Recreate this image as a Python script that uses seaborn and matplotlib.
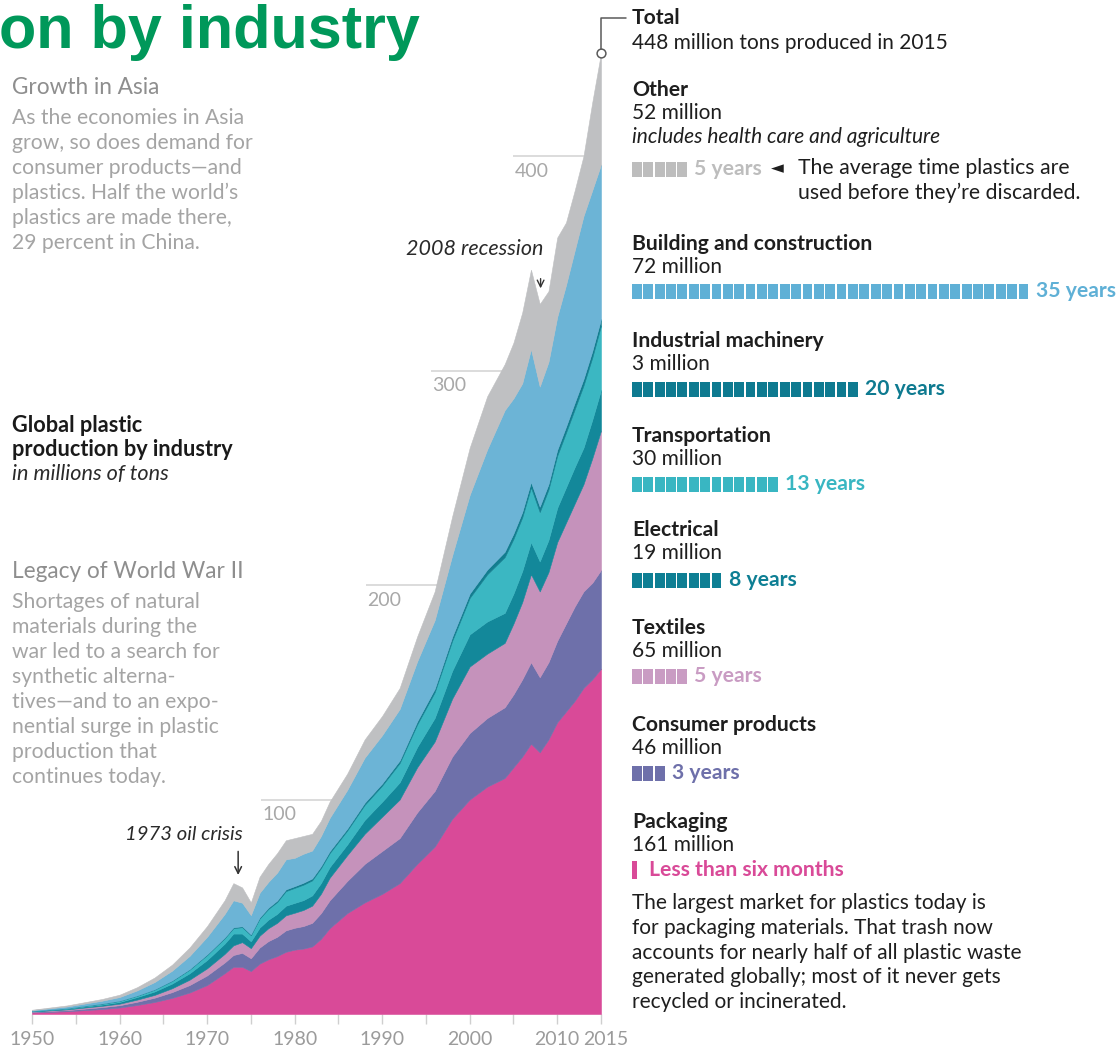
import numpy as np
import pandas as pd
import matplotlib
matplotlib.use("Agg")
import matplotlib.pyplot as plt
from matplotlib.lines import Line2D
import seaborn as sns

# ---------------------------------------------------------------------------
# Global plastic production by industry, millions of tons
# ---------------------------------------------------------------------------
years = [1950, 1952, 1954, 1956, 1958, 1960, 1962, 1964, 1966, 1968,
         1970, 1972, 1973, 1974, 1975, 1976, 1977, 1978, 1979, 1980,
         1981, 1982, 1983, 1984, 1986, 1988, 1990, 1992, 1994, 1996,
         1998, 2000, 2002, 2004, 2005, 2006, 2007, 2008, 2009, 2010,
         2011, 2012, 2013, 2014, 2015]

packaging = [0.7, 1.0, 1.3, 1.8, 2.3, 3.0, 4.2, 5.6, 7.5, 10.0,
             13.5, 19.0, 22.0, 22.0, 20.0, 23.5, 25.5, 27.0, 29.0, 30.0,
             30.5, 31.5, 35.0, 40.0, 47.0, 52.0, 56.0, 61.0, 70.0, 78.0,
             91.0, 100.0, 106.0, 110.0, 115.0, 120.0, 126.0, 122.0, 128.0, 136.0,
             141.0, 146.0, 152.0, 156.0, 161.0]
consumer = [0.3, 0.4, 0.5, 0.7, 0.9, 1.1, 1.5, 2.0, 2.7, 3.5,
            4.5, 5.0, 5.5, 6.5, 6.0, 7.5, 8.5, 9.0, 10.0, 10.2,
            10.5, 11.0, 12.0, 13.0, 15.0, 18.0, 20.0, 21.0, 24.0, 26.0,
            29.0, 31.0, 32.0, 33.0, 34.0, 36.0, 38.0, 35.0, 36.0, 38.0,
            41.0, 44.0, 45.0, 45.0, 46.0]
textiles = [0.15, 0.25, 0.35, 0.5, 0.6, 0.7, 1.0, 1.3, 1.8, 2.5,
            3.3, 4.0, 4.5, 5.0, 4.7, 5.5, 6.0, 6.5, 7.0, 7.0,
            7.5, 8.0, 9.0, 10.5, 12.0, 14.0, 16.0, 18.0, 21.0, 23.0,
            27.0, 31.0, 30.0, 30.0, 33.0, 36.0, 41.0, 40.0, 42.0, 46.0,
            47.0, 48.0, 50.0, 58.0, 65.0]
electrical = [0.15, 0.25, 0.35, 0.5, 0.6, 0.8, 1.2, 1.6, 2.2, 3.0,
              3.9, 4.8, 5.5, 4.0, 3.2, 3.8, 4.0, 4.2, 4.5, 4.6,
              4.6, 4.8, 5.0, 5.0, 5.0, 6.5, 7.0, 8.0, 9.5, 11.0,
              13.0, 15.0, 15.0, 14.0, 14.0, 14.5, 15.0, 14.0, 15.0, 16.0,
              16.5, 17.0, 17.0, 18.0, 19.0]
transportation = [0.1, 0.15, 0.2, 0.3, 0.4, 0.5, 0.6, 0.9, 1.2, 1.7,
                  2.3, 2.5, 2.5, 3.0, 2.8, 4.2, 5.0, 5.5, 6.8, 7.0,
                  7.2, 7.0, 7.0, 6.5, 6.5, 7.0, 7.5, 9.0, 10.5, 12.0,
                  14.0, 17.0, 22.0, 26.0, 25.5, 25.0, 25.5, 23.0, 23.5, 24.3,
                  25.5, 27.0, 29.0, 29.0, 30.0]
industrial = [0.05, 0.05, 0.05, 0.05, 0.1, 0.1, 0.1, 0.1, 0.2, 0.2,
              0.3, 0.3, 0.4, 0.4, 0.4, 0.5, 0.6, 0.7, 0.8, 0.8,
              0.9, 0.9, 0.9, 0.9, 0.9, 1.0, 1.0, 1.2, 1.4, 1.6,
              1.8, 2.0, 2.2, 2.5, 2.5, 2.5, 2.5, 2.5, 2.5, 2.7,
              2.8, 3.0, 3.0, 3.0, 3.0]
building = [0.35, 0.55, 0.75, 1.0, 1.3, 1.7, 2.4, 3.4, 4.6, 6.2,
            8.2, 11.0, 12.6, 11.0, 9.0, 11.5, 12.0, 13.0, 14.0, 13.2,
            13.5, 13.0, 14.0, 15.5, 18.0, 21.0, 22.5, 24.0, 28.0, 32.0,
            38.0, 46.0, 56.0, 66.0, 63.0, 60.0, 62.0, 56.0, 57.0, 62.0,
            66.0, 71.0, 76.0, 75.0, 72.0]
other = [0.2, 0.35, 0.5, 0.65, 0.8, 1.1, 1.5, 2.1, 2.8, 3.9,
         5.0, 6.4, 8.0, 7.1, 5.9, 7.5, 8.4, 9.1, 8.9, 9.2,
         8.3, 7.8, 7.1, 7.6, 7.6, 8.5, 9.0, 9.8, 11.6, 13.4,
         18.2, 22.0, 24.8, 21.5, 26.0, 33.0, 37.0, 38.5, 33.0, 37.0,
         29.2, 28.0, 28.0, 41.0, 52.0]

# Right-hand key: name, 2015 output (millions of tons), product lifetime (years)
industries = ["Other", "Building and construction", "Industrial machinery",
              "Transportation", "Electrical", "Textiles", "Consumer products",
              "Packaging"]
output_2015 = [52, 72, 3, 30, 19, 65, 46, 161]
lifetimes = [5, 35, 20, 13, 8, 5, 3, 0.5]
lifetime_labels = ["5 years", "35 years", "20 years", "13 years", "8 years",
                   "5 years", "3 years", "Less than six months"]

grid_levels = [100, 200, 300, 400]
tick_years = [1950, 1960, 1970, 1980, 1990, 2000, 2010, 2015]

# ---------------------------------------------------------------------------
df = pd.DataFrame({"year": years, "Packaging": packaging, "Consumer products": consumer,
                   "Textiles": textiles, "Electrical": electrical,
                   "Transportation": transportation, "Industrial machinery": industrial,
                   "Building and construction": building, "Other": other})
stack_order = ["Packaging", "Consumer products", "Textiles", "Electrical",
               "Transportation", "Industrial machinery", "Building and construction", "Other"]
df["total"] = df[stack_order].sum(axis=1)

sns.set_theme(style="white")
plt.rcParams["font.family"] = ["Lato", "DejaVu Sans"]

area_colors = {
    "Packaging": "#d94a98",
    "Consumer products": "#6e70aa",
    "Textiles": "#c592bb",
    "Electrical": "#13889a",
    "Transportation": "#3bb7c2",
    "Industrial machinery": "#127d8f",
    "Building and construction": "#6cb4d6",
    "Other": "#bfc0c2",
}
key_colors = {
    "Other": "#bdbdbd",
    "Building and construction": "#5fb0d6",
    "Industrial machinery": "#0e7a90",
    "Transportation": "#39b6c2",
    "Electrical": "#0e7f94",
    "Textiles": "#c99cc3",
    "Consumer products": "#6e70aa",
    "Packaging": "#d94a98",
}
palette = sns.color_palette([area_colors[k] for k in stack_order])

W, H = 1120, 1052
fig = plt.figure(figsize=(W / 100, H / 100), dpi=100)


def fx(x):
    return x / W


def fy(y):
    return 1 - y / H


# ---------------- stacked area ----------------
PX_PER_UNIT = 2.145
ax = fig.add_axes([fx(32), fy(1014), (601 - 32) / W, 1014 / H])
ax.set_xlim(1950, 2015)
ax.set_ylim(0, 1014 / PX_PER_UNIT)
ax.stackplot(df["year"], *[df[k] for k in stack_order], colors=palette,
             linewidth=0.4, edgecolor="face", zorder=3)
for s in ax.spines.values():
    s.set_visible(False)

# short gridline segments ending at the curve, with labels underneath
for lvl in grid_levels:
    tot = df["total"].to_numpy()
    yr = df["year"].to_numpy()
    i = int(np.argmax(tot >= lvl))
    cross = yr[i - 1] + (lvl - tot[i - 1]) / (tot[i] - tot[i - 1]) * (yr[i] - yr[i - 1])
    start = cross - 8.0
    ax.hlines(lvl, start, 2015, color="#dcdcdc", lw=1.4, zorder=1)
    ax.annotate(str(lvl), xy=(start, lvl), xytext=(1, -5), textcoords="offset points",
                ha="left", va="top", fontsize=14, color="#a8a8a8")

# x axis: tick marks every five years, labels drawn under the decade marks
ax.set_yticks([])
ax.set_xticks(np.arange(1950, 2016, 5))
ax.set_xticklabels([])
ax.tick_params(axis="x", which="both", direction="out", length=7, width=1,
               color="#cfcfcf", bottom=True)
for t in tick_years:
    nudge = 3.5 if t == 2015 else 0
    ax.annotate(str(t), xy=(t, 0), xycoords=("data", "axes fraction"),
                xytext=(nudge, -12), textcoords="offset points",
                ha="center", va="top", fontsize=14, color="#9b9b9b",
                annotation_clip=False)

# total marker and bracket
total_2015 = float(df["total"].iloc[-1])
sns.scatterplot(x=[2015], y=[total_2015], ax=ax, s=40, marker="o",
                facecolor="white", edgecolor="#5a5a5a", linewidth=1.1,
                zorder=6, clip_on=False, legend=False)

# event annotations
t1973 = float(df.loc[df["year"] == 1973, "total"].iloc[0])
t2008 = float(df.loc[df["year"] == 2008, "total"].iloc[0])
ax.annotate("", xy=(1973.55, t1973 + 2.5), xytext=(0, 21), textcoords="offset points",
            arrowprops=dict(arrowstyle="->", color="#333333", lw=1.1))
ax.annotate("", xy=(2008.1, t2008 + 6), xytext=(0, 11), textcoords="offset points",
            arrowprops=dict(arrowstyle="->", color="#333333", lw=1.0))

fig.add_artist(Line2D([fx(601), fx(601), fx(626)], [fy(49), fy(18), fy(18)],
                      color="#5a5a5a", lw=1.1))

# ---------------- text ----------------
BODY = 14.6


def txt(x, y, s, size=BODY, color="#1e1e1e", weight="normal", style="normal", **kw):
    fig.text(fx(x), fy(y), s, fontsize=size, color=color, fontweight=weight,
             fontstyle=style, va="center", ha=kw.pop("ha", "left"), **kw)


fig.text(fx(-1), fy(48), "on by industry", fontsize=44, fontweight="bold",
         color="#00985a", family=["Liberation Sans", "DejaVu Sans"], va="baseline")

txt(184, 834, "1973 oil crisis", size=14.6, style="italic", color="#2a2a2a", ha="center")
txt(475, 249, "2008 recession", size=15.5, style="italic", color="#2a2a2a", ha="center")

# left column
txt(12, 88, "Growth in Asia", size=16.3, color="#8e8e8e")
asia = ["As the economies in Asia", "grow, so does demand for", "consumer products\u2014and",
        "plastics. Half the world\u2019s", "plastics are made there,", "29 percent in China."]
for k, line in enumerate(asia):
    txt(12, 118 + 25 * k, line, size=15.2, color="#a4a4a4")

txt(12, 426, "Global plastic", size=15.6, weight="bold", color="#1a1a1a")
txt(12, 450, "production by industry", size=15.6, weight="bold", color="#1a1a1a")
txt(12, 474, "in millions of tons", size=15.6, style="italic", color="#2a2a2a")

txt(12, 571, "Legacy of World War II", size=16.3, color="#8e8e8e")
war = ["Shortages of natural", "materials during the", "war led to a search for",
       "synthetic alterna-", "tives\u2014and to an expo-", "nential surge in plastic",
       "production that", "continues today."]
for k, line in enumerate(war):
    txt(12, 602 + 25 * k, line, size=15.2, color="#a4a4a4")

# right column
txt(632, 18, "Total", weight="bold", size=15.2)
txt(632, 43, f"{int(total_2015)} million tons produced in 2015", size=15.0)

header_y = [90, 244, 341, 436, 530, 628, 725, 822]
row_y = [169, 291, 389, 484, 580, 676, 773, 870]
for name, val, hy in zip(industries, output_2015, header_y):
    txt(632, hy, name, weight="bold", size=15.2)
    txt(632, hy + 23, f"{val} million", size=15.0)
txt(632, 137, "includes health care and agriculture", style="italic", size=15.0)

txt(771, 168, "\u25c4", size=12, color="#1e1e1e", family=["DejaVu Sans"])
txt(798, 168, "The average time plastics are", size=15.3)
txt(798, 193, "used before they\u2019re discarded.", size=15.3)

# lifetime bars: one square per year of use
SQ = 11.37
bax = fig.add_axes([fx(632), 0, 35 * SQ / W, 1], facecolor="none")
bax.set_xlim(0, 35)
bax.set_ylim(H, 0)
bax.axis("off")
for name, life, lab, ry in zip(industries, lifetimes, lifetime_labels, row_y):
    col = key_colors[name]
    full = int(np.floor(life))
    if full:
        bax.bar(np.arange(full), 15, bottom=ry - 7.5, width=0.86, align="edge",
                color=col, linewidth=0)
    frac = life - full
    if frac > 0:
        bax.bar([full], 18, bottom=ry - 9, width=frac * 0.8, align="edge",
                color=col, linewidth=0)
    bax.annotate(lab, xy=(max(life, 1.0), ry), xytext=(4, 0), textcoords="offset points",
                 ha="left", va="center", fontsize=15.2, fontweight="bold", color=col)

para = ["The largest market for plastics today is", "for packaging materials. That trash now",
        "accounts for nearly half of all plastic waste", "generated globally; most of it never gets",
        "recycled or incinerated."]
for k, line in enumerate(para):
    txt(632, 903 + 24.8 * k, line, size=15.0)

fig.savefig("out.png", dpi=100)
